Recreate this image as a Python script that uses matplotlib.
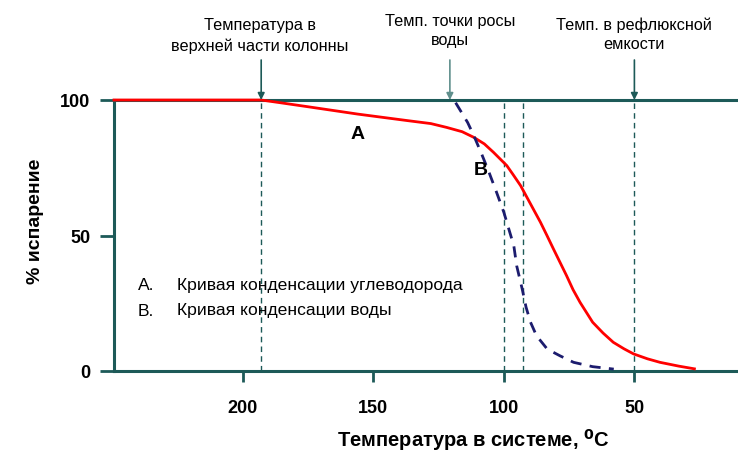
import matplotlib
matplotlib.use("Agg")
import matplotlib.pyplot as plt

plt.rcParams['font.family'] = ['Liberation Sans', 'DejaVu Sans']

# Data
temp_a = [249.4, 193.0, 185.0, 175.0, 156.0, 137.0, 128.0, 122.0, 116.0, 111.5, 107.5, 104.0,
          101.5, 98.9, 96.5, 93.6, 90.0, 86.0, 83.5, 81.0, 76.0, 73.5, 70.8, 66.0, 62.0,
          58.1, 54.0, 50.3, 45.0, 40.2, 33.0, 27.0]
pct_a = [100.0, 100.0, 98.9, 97.5, 94.8, 92.4, 91.3, 89.9, 88.3, 86.2, 83.8, 80.7,
         78.3, 75.8, 72.5, 68.4, 62.0, 54.9, 50.0, 45.0, 35.2, 30.0, 25.3, 18.0, 14.0,
         10.6, 8.2, 6.3, 4.5, 3.2, 1.8, 0.8]

temp_b = [118.5, 117.8, 113.9, 111.5, 108.5, 105.7, 102.8, 100.0, 98.0, 96.2, 95.1, 93.0,
          91.5, 89.8, 87.5, 83.4, 78.5, 73.3, 66.0, 57.9]
pct_b = [99.0, 97.9, 91.7, 86.8, 80.0, 73.3, 65.9, 58.5, 52.0, 46.2, 38.8, 30.3,
         23.5, 18.0, 13.0, 8.1, 5.6, 3.2, 1.6, 0.7]

x_ticks = [200, 150, 100, 50]
y_ticks = [0, 50, 100]
vlines = [193.0, 100.0, 92.7, 50.0]
arrows = [(193.0, "Температура в\nверхней части колонны"),
          (120.7, "Темп. точки росы\nводы"),
          (50.0, "Темп. в рефлюксной\nемкости")]
legend_lines = [("A.", "Кривая конденсации углеводорода"),
                ("B.", "Кривая конденсации воды")]

axis_color = '#1d5a58'

W, H = 738, 452
fig = plt.figure(figsize=(W / 100, H / 100), dpi=100)
ax = fig.add_axes([114 / W, 1 - 372 / H, 1 - 114 / W, (372 - 101) / H])
ax.set_xlim(249.4, 10.3)
ax.set_ylim(0, 100)

ax.spines['right'].set_visible(False)
for s in ['left', 'top', 'bottom']:
    ax.spines[s].set_color(axis_color)
    ax.spines[s].set_linewidth(2.2)

ax.set_xticks(x_ticks)
ax.set_yticks(y_ticks)
ax.tick_params(axis='x', direction='out', length=8, width=2, color=axis_color, pad=12,
               labelsize=13)
ax.tick_params(axis='y', direction='out', length=10, width=2, color=axis_color, pad=7,
               labelsize=13)
for lab in ax.get_xticklabels() + ax.get_yticklabels():
    lab.set_fontweight('bold')

for v in vlines:
    ax.plot([v, v], [0, 100], color=axis_color, lw=1.0, ls=(0, (4, 3)), zorder=1)

ax.plot(temp_a, pct_a, color='#ff0000', lw=2.0, zorder=3, clip_on=False)
ax.plot(temp_b, pct_b, color='#1c1c6e', lw=2.0, ls=(0, (4, 3)), zorder=3)

for xv, txt in arrows:
    ax.annotate('', xy=(xv, 100), xycoords='data',
                xytext=(xv, 100 + 40 / 2.71), textcoords='data',
                arrowprops=dict(arrowstyle='-|>', color=axis_color if xv != 120.7 else '#5f8f8c',
                                lw=1.2, mutation_scale=10, shrinkA=0, shrinkB=0),
                annotation_clip=False)

fig.text(260 / W, 1 - 36 / H, arrows[0][1], ha='center', va='center', fontsize=11.7,
         linespacing=1.45)
fig.text(450 / W, 1 - 31 / H, arrows[1][1], ha='center', va='center', fontsize=11.7,
         linespacing=1.35)
fig.text(634 / W, 1 - 35 / H, arrows[2][1], ha='center', va='center', fontsize=11.7,
         linespacing=1.35)

for i, (k, t) in enumerate(legend_lines):
    yy = 1 - (286 + i * 25) / H
    fig.text(138 / W, yy, k, ha='left', va='center', fontsize=12.6)
    fig.text(177 / W, yy, t, ha='left', va='center', fontsize=12.6)

fig.text(358 / W, 1 - 135 / H, 'A', ha='center', va='center', fontsize=14, fontweight='bold')
fig.text(481 / W, 1 - 171 / H, 'B', ha='center', va='center', fontsize=14, fontweight='bold')

fig.text(35 / W, 1 - 221 / H, '% испарение', rotation=90, ha='center', va='center',
         fontsize=14, fontweight='bold')
fig.text(473 / W, 1 - 440 / H, 'Температура в системе, $\\mathbf{^0}$C', ha='center', va='center',
         fontsize=14.5, fontweight='bold')

fig.savefig('out.png', dpi=100)
